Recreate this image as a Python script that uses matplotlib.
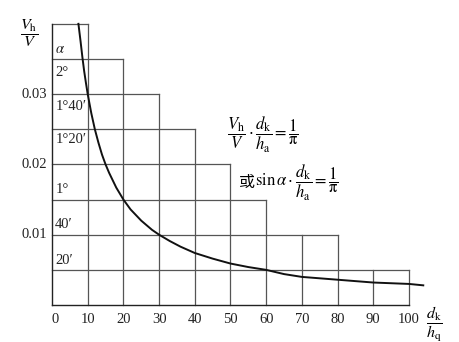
import matplotlib.pyplot as plt

plt.rcParams['font.family'] = ['Liberation Serif', 'Noto Sans CJK SC']
plt.rcParams['mathtext.fontset'] = 'stix'

# staircase grid: right edge of each horizontal line, height of each vertical line
h_levels = [0.005, 0.01, 0.015, 0.02, 0.025, 0.03, 0.035, 0.04]
h_ends = [100, 80, 60, 50, 40, 30, 20, 10]
v_pos = [10, 20, 30, 40, 50, 60, 70, 80, 90, 100]
v_tops = [0.04, 0.035, 0.03, 0.025, 0.02, 0.015, 0.01, 0.01, 0.005, 0.005]

# curve
curve_x = [7.4, 8, 8.5, 9, 9.5, 10, 11, 12, 13, 14, 15, 16, 18, 20, 22, 25, 28,
           30, 33, 36, 40, 45, 50, 55, 60, 65, 70, 80, 90, 100, 104]
curve_y = [0.0400, 0.0375, 0.0353, 0.0333, 0.0316, 0.0300, 0.0273, 0.0250,
           0.0231, 0.0214, 0.0200, 0.0188, 0.0167, 0.0150, 0.0136, 0.0120,
           0.0107, 0.0100, 0.0091, 0.0083, 0.0074, 0.0066, 0.0059, 0.0054,
           0.0050, 0.0044, 0.0040, 0.0036, 0.0032, 0.0030, 0.0028]

# angle labels in the first column
alpha_labels = ['$\\alpha$', '2°', '1°40′', '1°20′', '1°', '40′', '20′']
alpha_y = [0.0363, 0.0331, 0.0282, 0.0236, 0.0164, 0.0114, 0.0064]

x_ticks = [0, 10, 20, 30, 40, 50, 60, 70, 80, 90, 100]
y_ticks = [0.01, 0.02, 0.03]

fig = plt.figure(figsize=(4.6, 3.42), dpi=100)
ax = fig.add_axes([0, 0, 1, 1])
ax.axis('off')
ax.set_xlim(-14.57, 114.29)
ax.set_ylim(-0.00526, 0.04339)

grid_c = '#555555'
for y, xe in zip(h_levels, h_ends):
    ax.plot([0, xe], [y, y], color=grid_c, lw=0.9)
for x, yt in zip(v_pos, v_tops):
    ax.plot([x, x], [0, yt], color=grid_c, lw=0.9)

# axes
ax.plot([0, 0], [0, 0.04], color='#222222', lw=1.0)
ax.plot([0, 100], [0, 0], color='#222222', lw=1.0)

ax.plot(curve_x, curve_y, color='#111111', lw=1.4)

for lab, y in zip(alpha_labels, alpha_y):
    ax.text(0.9, y, lab, fontsize=10.5, ha='left', va='center', color='#222222')

for x in x_ticks:
    ax.text(x + (1 if x == 0 else 0), -0.0021, str(x), fontsize=10.5,
            ha='center', va='center', color='#222222')
for y in y_ticks:
    ax.text(-1.5, y, f'{y:.2f}', fontsize=10.5, ha='right', va='center',
            color='#222222')

ax.text(-6.4, 0.0386, r'$\dfrac{V_\mathrm{h}}{V}$', fontsize=11.5,
        ha='center', va='center')
ax.text(107.0, -0.0027, r'$\dfrac{d_\mathrm{k}}{h_\mathrm{q}}$', fontsize=11.5,
        ha='center', va='center')

ax.text(59.1, 0.0242,
        r'$\dfrac{V_\mathrm{h}}{V}\cdot\dfrac{d_\mathrm{k}}{h_\mathrm{a}}=\dfrac{1}{\mathrm{\pi}}$',
        fontsize=12, ha='center', va='center')
ax.text(54.6, 0.0175, '或', fontsize=11.5, ha='center', va='center',
        family=['Noto Sans CJK SC'])
ax.text(57.0, 0.01735,
        r'$\mathrm{sin}\,\alpha\cdot\dfrac{d_\mathrm{k}}{h_\mathrm{a}}=\dfrac{1}{\mathrm{\pi}}$',
        fontsize=12, ha='left', va='center')

fig.savefig('out.png', dpi=100)
